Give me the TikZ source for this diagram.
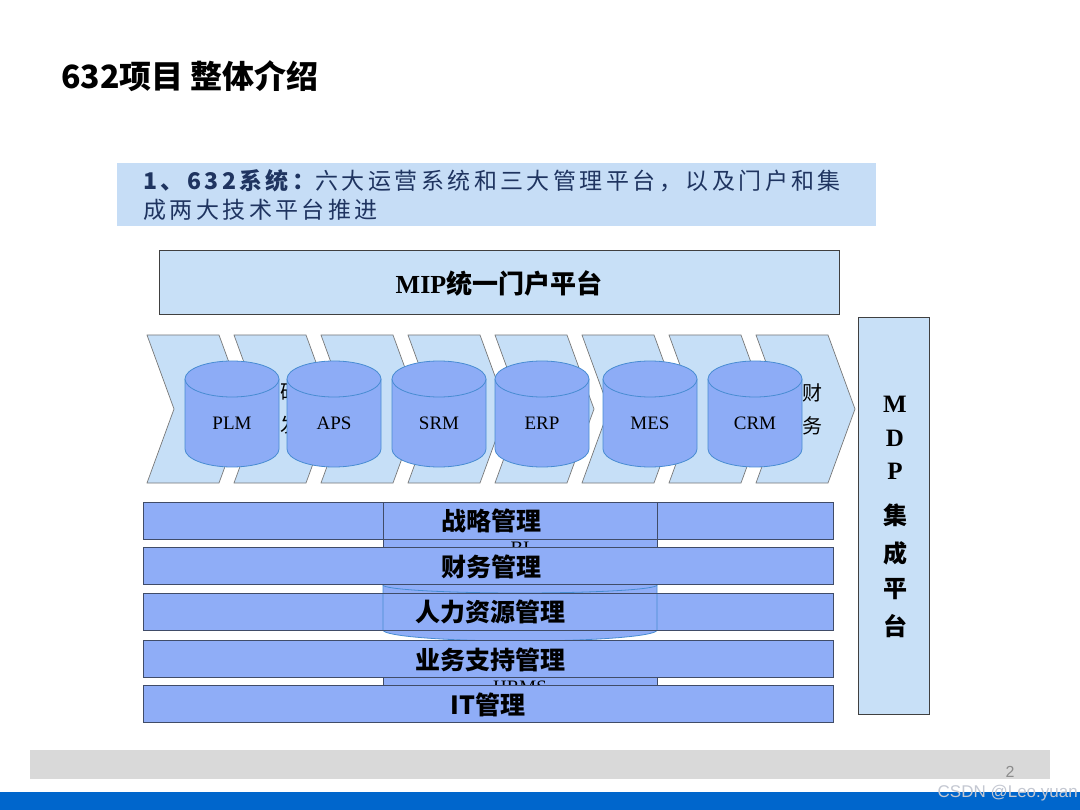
\documentclass[tikz,border=0pt]{standalone}
\usepackage{fontspec}
\setmainfont{Liberation Serif}
\newfontfamily\cjk{Noto Sans CJK SC}
\newfontfamily\cjkls{Noto Sans CJK SC}[LetterSpace=15]
\newfontfamily\lsans{Liberation Sans}
\definecolor{navy}{RGB}{31,52,96}
\definecolor{hdrfill}{RGB}{198,221,246}
\definecolor{boxfill}{RGB}{200,224,247}
\definecolor{chevfill}{RGB}{198,223,247}
\definecolor{chevline}{RGB}{120,120,120}
\definecolor{cylfill}{RGB}{141,172,246}
\definecolor{cylline}{RGB}{72,140,210}
\definecolor{barfill}{RGB}{143,173,247}
\definecolor{barline}{RGB}{64,76,104}
\definecolor{footgray}{RGB}{217,217,217}
\definecolor{footblue}{RGB}{0,102,204}
\definecolor{wmgray}{RGB}{196,200,210}
\tikzset{
  boxstyle/.style={fill=boxfill, draw=black!75, line width=1pt, inner sep=0pt},
  chev/.style={fill=chevfill, draw=chevline, line width=0.7pt},
  cylpath/.style={fill=cylfill, draw=cylline, line width=0.8pt},
  cyllabel/.style={font=\fontsize{19}{19}\selectfont, text=black},
  barbox/.style={fill=barfill, draw=barline, line width=0.8pt, minimum width=690pt, minimum height=37pt, inner sep=0pt},
  barline only/.style={draw=barline, line width=0.8pt, fill=none, minimum width=690pt, minimum height=37pt, inner sep=0pt},
  bartext/.style={font=\cjk\bfseries\fontsize{25}{25}\selectfont, text=black},
  midbox/.style={fill=barfill, draw=barline, line width=0.7pt},
  midcyl/.style={draw=cylline, line width=0.8pt},
  chevtext/.style={font=\cjk\fontsize{20}{33}\selectfont, align=center, text=black},
  mdptext/.style={font=\fontsize{25}{25}\selectfont\bfseries, text=black},
}
\newcommand\mycyl[3]{%
  \filldraw[cylpath] (#1-47,379) -- (#1-47,449) arc[start angle=180,end angle=0,x radius=47,y radius=18] -- (#1+47,379);
  \filldraw[cylpath] (#1,379) ellipse [x radius=47,y radius=18];
  \node[cyllabel] (#2) at (#1,423) {#3};
}
\begin{document}
\begin{tikzpicture}[x=1pt,y=-1pt]
\useasboundingbox (0,0) rectangle (1080,810);
\fill[white] (0,0) rectangle (1080,810);

% title
\node[anchor=west, inner sep=0pt, font=\cjk\bfseries\fontsize{32}{32}\selectfont] (title) at (61,76) {632项目 整体介绍};

% header box
\node[fill=hdrfill, inner sep=0pt, minimum width=759pt, minimum height=63pt, anchor=north west] (hdr) at (117,163) {};
\node[anchor=west, inner sep=0pt, text=navy, font=\cjkls\fontsize{23}{23}\selectfont] (hdr1) at (143,181) {{\bfseries 1、632系统：}六大运营系统和三大管理平台，以及门户和集};
\node[anchor=west, inner sep=0pt, text=navy, font=\cjkls\fontsize{23}{23}\selectfont] (hdr2) at (143,210) {成两大技术平台推进};

% MIP
\node[boxstyle, minimum width=680pt, minimum height=64pt] (mip) at (499,283) {\fontsize{26}{26}\selectfont\bfseries MIP{\cjk\bfseries 统一门户平台}};

% MDP
\node[boxstyle, minimum width=71pt, minimum height=396pt] (mdp) at (893.5,516) {};
\node[mdptext] (m1) at (895,404) {M};
\node[mdptext] (m2) at (895,438) {D};
\node[mdptext] (m3) at (895,471) {P};
\node[mdptext, font=\cjk\bfseries\fontsize{24}{24}\selectfont] (m4) at (895,515) {集};
\node[mdptext, font=\cjk\bfseries\fontsize{24}{24}\selectfont] (m5) at (895,553) {成};
\node[mdptext, font=\cjk\bfseries\fontsize{24}{24}\selectfont] (m6) at (895,589) {平};
\node[mdptext, font=\cjk\bfseries\fontsize{24}{24}\selectfont] (m7) at (895,626) {台};

% chevrons
\foreach \i in {0,...,7} {
  \pgfmathsetmacro\xo{147+87*\i}
  \draw[chev] (\xo,335) -- ++(72,0) -- ++(27,74) -- ++(-27,74) -- ++(-72,0) -- ++(27,-74) -- cycle;
}
\node[chevtext] (c2) at (290,409) {研\\发};
\node[chevtext] (c8) at (812,409) {财\\务};

% cylinders
\mycyl{232}{plm}{PLM}
\mycyl{334}{aps}{APS}
\mycyl{439}{srm}{SRM}
\mycyl{542}{erp}{ERP}
\mycyl{650}{mes}{MES}
\mycyl{755}{crm}{CRM}

% management bars and overlays
\node[barbox] (b1) at (488,520.5) {};
\filldraw[midbox] (383,502) rectangle (657,584);
\node[cyllabel] (bi) at (520,548) {BI};
\node[barbox, draw=none] (b3) at (488,611.5) {};
\fill[barfill] (383,584) -- (383,630) arc[start angle=180,end angle=0,x radius=137,y radius=11] -- (657,584) -- cycle;
\draw[midcyl] (383,585) -- (383,630) arc[start angle=180,end angle=0,x radius=137,y radius=11] -- (657,585);
\draw[midcyl] (657,585) arc[start angle=0,end angle=180,x radius=137,y radius=8];
\node[barline only] (b3o) at (488,611.5) {};
\node[barline only] (b1o) at (488,520.5) {};
\node[barbox] (b2) at (488,565.5) {};
\filldraw[midbox] (383,641) rectangle (657,722);
\node[cyllabel] (hrms) at (520,687) {HRMS};
\node[barbox] (b4) at (488,659) {};
\node[barbox] (b5) at (488,703.5) {};

\node[bartext] (t1) at (491,521) {战略管理};
\node[bartext] (t2) at (491,567) {财务管理};
\node[bartext] (t3) at (490,612) {人力资源管理};
\node[bartext] (t4) at (490,660) {业务支持管理};
\node[bartext] (t5) at (488,705) {IT管理};

% footer
\fill[footgray] (30,750) rectangle (1050,779);
\node[font=\lsans\fontsize{16}{16}\selectfont, text=black!45] (pg) at (1010,772) {2};
\fill[footblue] (0,792) rectangle (1080,810);
\node[anchor=east, inner sep=0pt, font=\lsans\fontsize{17}{17}\selectfont, text=wmgray] (wm) at (1078,793) {CSDN @Leo.yuan};
\end{tikzpicture}
\end{document}
